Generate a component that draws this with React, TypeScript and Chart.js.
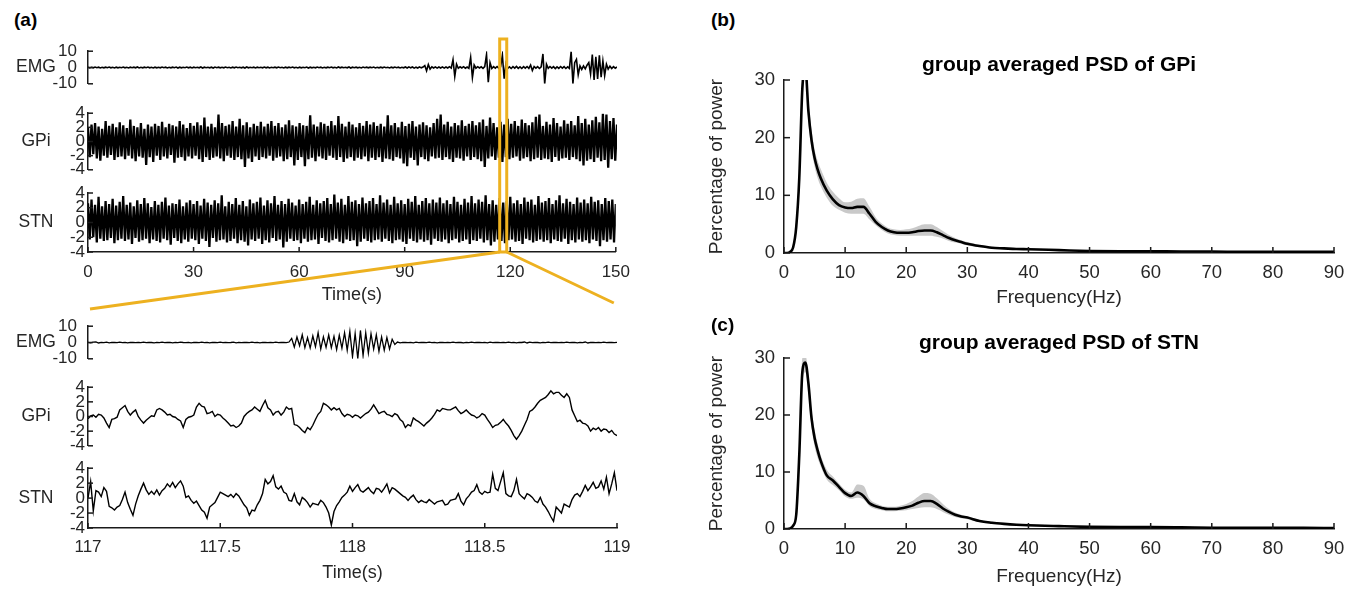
import React, { useEffect, useRef } from 'react';
import { Chart, registerables } from 'chart.js';

Chart.register(...registerables);

const FONT = "'Liberation Sans', Arial, Helvetica, sans-serif";
const TXT = '#262626';
const AX = '#1a1a1a';
const YELLOW = '#EDB120';
const BAND = '#C9C9C9';

// ---------- panel (a): full recording, 0–150 s, one value every 0.5 s ----------
const TOP_T0 = 0;
const TOP_DT = 0.5;

const topEMG = [
  0.2,-0.3,0.1,-0.2,0.3,-0.1,0.2,-0.3,0.1,-0.2,0.2,-0.1,0.3,-0.2,0.1,-0.3,0.2,-0.2,0.1,-0.1,
  0.3,-0.2,0.1,-0.3,0.2,-0.1,0.2,-0.2,0.3,-0.3,0.1,-0.2,0.2,-0.1,0.3,-0.2,0.1,-0.3,0.2,-0.2,
  0.1,-0.2,0.3,-0.1,0.2,-0.3,0.1,-0.2,0.2,-0.1,0.3,-0.3,0.2,-0.2,0.1,-0.1,0.3,-0.2,0.2,-0.3,
  0.2,-0.1,0.1,-0.2,0.3,-0.3,0.2,-0.1,0.1,-0.2,0.2,-0.3,0.3,-0.1,0.2,-0.2,0.1,-0.2,0.3,-0.1,
  0.1,-0.3,0.2,-0.2,0.3,-0.1,0.1,-0.2,0.2,-0.3,0.3,-0.2,0.1,-0.1,0.2,-0.3,0.2,-0.1,0.1,-0.2,
  0.3,-0.2,0.2,-0.3,0.1,-0.1,0.2,-0.2,0.3,-0.1,0.1,-0.3,0.2,-0.2,0.2,-0.1,0.3,-0.2,0.1,-0.3,
  0.2,-0.2,0.1,-0.1,0.3,-0.3,0.2,-0.2,0.1,-0.2,0.3,-0.1,0.2,-0.3,0.1,-0.2,0.2,-0.1,0.3,-0.2,
  0.1,-0.3,0.3,-0.2,0.2,-0.1,0.1,-0.2,0.3,-0.3,0.2,-0.1,0.2,-0.2,0.1,-0.3,0.3,-0.1,0.2,-0.2,
  0.2,-0.1,0.3,-0.3,0.1,-0.2,0.2,-0.2,0.3,-0.1,0.1,-0.3,0.2,-0.2,0.3,-0.1,0.2,-0.3,0.1,-0.2,
  0.3,-0.3,0.4,-0.2,0.3,-0.4,0.2,-0.3,0.4,-0.2,0.3,1.2,-2.0,1.8,-1.0,0.4,-0.3,0.4,-0.4,0.3,
  -0.3,0.4,-0.4,0.3,-0.3,0.5,-0.4,4.8,-5.5,2.0,-0.5,0.4,-0.3,0.5,-0.4,0.3,-0.5,6.2,-6.2,1.5,
  -0.4,0.5,-0.3,0.4,-0.5,0.6,7.9,-9.0,3.0,-0.6,0.5,-0.4,0.6,-0.5,0.4,7.6,-6.9,2.5,-0.5,0.4,
  -0.6,0.5,-0.4,0.7,-0.5,0.4,-0.6,0.5,-0.4,0.6,-0.5,1.5,-1.8,0.6,-0.4,0.5,-0.6,0.4,8.3,-10.0,
  2.0,-0.5,0.6,-0.4,0.5,-0.7,0.4,-0.5,0.6,-0.4,0.5,-0.6,0.4,-0.5,9.7,-10.0,3.0,5.0,-4.5,1.0,
  -1.2,1.0,-0.8,1.4,3.0,-4.0,7.9,-7.6,6.5,-7.0,7.5,-6.0,4.0,-5.0,2.0,-1.0,0.8,-0.6,0.5,-0.4,
  0.3,
];

const topGPi = [
  1.9,-2.2,2.4,-1.8,2.6,-2.4,2.1,-2.7,1.8,-2.0,2.9,-2.3,2.2,-1.9,2.5,-2.6,2.0,-2.2,2.7,-2.1,
  2.3,-2.5,1.9,-2.0,3.1,-2.4,2.2,-2.8,2.0,-2.1,2.6,-2.3,1.8,-3.3,2.4,-2.2,2.1,-2.9,2.5,-2.0,
  2.2,-2.6,2.8,-2.1,2.0,-2.4,2.5,-1.9,2.3,-3.0,2.1,-2.3,2.9,-2.2,2.4,-2.7,1.9,-2.1,2.6,-2.4,
  2.2,-2.0,2.7,-2.5,2.3,-2.9,3.4,-2.2,2.1,-2.6,2.5,-2.3,2.0,-2.1,3.8,-2.4,2.6,-2.8,2.2,-2.0,
  2.4,-2.3,2.9,-2.6,2.1,-2.2,3.2,-2.5,2.3,-3.6,2.7,-2.4,2.0,-2.9,2.5,-2.1,2.2,-2.6,2.8,-2.2,
  2.1,-2.4,2.5,-2.0,2.9,-2.7,2.2,-2.3,2.6,-2.1,2.0,-2.8,2.4,-2.5,3.0,-2.2,2.3,-3.4,2.1,-2.6,
  2.6,-2.2,2.3,-3.5,2.2,-2.5,3.7,-2.3,2.4,-2.8,2.1,-2.1,2.7,-2.4,2.5,-2.6,2.2,-2.0,2.9,-2.3,
  2.3,-2.6,3.6,-2.2,2.5,-2.9,2.1,-2.4,2.8,-2.2,2.4,-2.7,2.0,-2.3,2.6,-2.5,2.2,-2.1,2.9,-2.8,
  2.4,-2.3,2.7,-2.6,2.2,-2.2,2.5,-2.9,2.1,-2.4,3.7,-2.5,2.3,-2.7,2.6,-2.2,2.0,-2.4,2.8,-3.1,
  2.2,-3.5,2.5,-2.3,2.9,-2.6,2.1,-3.4,2.4,-2.2,2.7,-2.5,2.3,-2.8,2.0,-2.1,2.6,-2.4,3.2,-2.3,
  3.8,-2.6,2.4,-2.2,2.8,-2.5,2.1,-2.9,2.6,-2.3,2.3,-2.4,3.0,-2.7,2.2,-2.1,2.5,-2.6,2.9,-2.2,
  2.3,-2.5,2.7,-2.8,3.1,-3.6,2.2,-2.4,3.4,-2.1,2.6,-2.6,2.0,-2.3,2.8,-2.9,2.4,-2.2,3.2,-2.5,
  2.5,-2.3,2.9,-2.1,2.2,-2.7,3.1,-2.4,2.6,-2.2,2.3,-2.8,2.7,-2.5,3.5,-2.3,3.8,-2.6,2.2,-2.4,
  2.8,-2.5,2.4,-2.9,3.3,-2.2,2.6,-2.7,2.1,-2.4,3.0,-2.3,2.5,-2.6,2.9,-2.2,2.3,-2.5,3.6,-2.8,
  2.6,-3.4,3.2,-2.7,2.4,-2.5,3.0,-2.9,3.5,-2.3,2.7,-2.8,3.9,-2.6,3.8,-3.7,2.9,-2.5,3.3,-2.7,
  2.4,
];

const topSTN = [
  2.6,-2.3,3.1,-2.0,2.4,-2.7,3.5,-2.2,2.2,-2.5,2.9,-2.4,2.5,-2.1,3.2,-2.8,2.3,-2.4,2.8,-2.2,
  3.6,-2.5,2.4,-2.3,2.7,-2.9,2.2,-2.1,3.0,-2.6,2.5,-2.4,3.3,-2.2,2.6,-2.8,2.1,-2.3,2.9,-2.5,
  2.4,-2.7,2.8,-2.2,3.4,-2.4,2.3,-3.0,2.6,-2.1,2.5,-2.5,3.1,-2.8,2.2,-2.3,2.7,-2.6,3.0,-2.2,
  2.5,-2.4,2.9,-2.9,2.3,-2.2,3.2,-2.5,2.7,-3.3,2.4,-2.1,3.0,-2.6,2.6,-2.4,3.7,-2.3,2.2,-2.7,
  2.8,-2.5,2.5,-2.2,3.3,-2.8,2.4,-2.4,2.9,-2.6,2.2,-3.1,3.1,-2.3,2.6,-2.5,2.8,-2.2,3.4,-2.9,
  2.3,-2.4,3.0,-2.7,2.6,-2.1,3.6,-2.5,2.4,-2.3,2.9,-3.4,2.5,-2.6,3.2,-2.2,2.7,-2.5,2.3,-2.4,
  3.1,-2.8,2.5,-2.2,2.8,-2.6,3.5,-2.4,2.4,-2.3,3.0,-2.9,2.6,-2.1,2.9,-2.5,3.3,-2.7,2.5,-2.4,
  3.8,-2.2,2.7,-2.6,3.2,-2.8,2.4,-2.3,3.6,-2.5,2.8,-2.4,3.0,-3.2,2.5,-2.6,3.4,-2.2,2.6,-2.5,
  2.9,-2.7,3.3,-2.4,2.5,-2.3,3.7,-2.6,2.7,-2.2,3.1,-2.5,2.4,-2.8,3.5,-2.4,2.6,-2.3,3.0,-2.6,
  2.5,-2.9,3.2,-2.2,2.8,-2.5,3.6,-2.7,2.4,-2.3,2.9,-2.6,3.3,-2.4,2.6,-3.0,3.1,-2.2,2.7,-2.5,
  3.4,-2.6,2.6,-2.3,3.0,-2.8,2.5,-2.4,3.5,-2.2,2.8,-2.7,2.4,-2.5,3.2,-2.3,2.7,-2.9,3.6,-2.4,
  2.6,-2.5,3.1,-2.2,2.8,-2.7,3.7,-2.4,2.5,-3.1,3.0,-2.6,2.4,-2.3,3.3,-2.5,2.7,-2.8,2.9,-2.4,
  3.5,-2.3,2.6,-2.6,3.0,-2.5,2.5,-2.9,3.4,-2.2,2.8,-2.4,3.1,-2.7,2.4,-2.5,3.6,-2.3,2.7,-2.6,
  2.9,-2.4,3.3,-2.8,2.5,-2.3,3.0,-2.5,3.7,-2.6,2.6,-2.2,3.2,-2.9,2.8,-2.4,2.5,-2.7,3.4,-2.3,
  2.7,-2.6,3.1,-2.4,2.6,-2.8,3.5,-2.3,2.8,-2.5,3.0,-3.2,2.5,-2.4,3.3,-2.6,2.9,-2.3,3.1,-2.7,
  2.5,
];

// ---------- panel (a): zoomed window 117–119 s, one value every 0.01 s ----------
const BOT_T0 = 117;
const BOT_DT = 0.01;

const botEMG = [
  0.1,-0.2,0.2,0.4,-0.3,0.1,-0.1,0.2,-0.2,0.1,0.0,-0.1,0.2,-0.1,0.1,-0.2,0.1,0.0,-0.1,0.1,
  -0.1,0.2,-0.1,0.1,0.0,-0.2,0.1,-0.1,0.2,-0.1,0.0,0.1,-0.2,0.1,-0.1,0.2,0.0,-0.1,0.1,-0.2,
  0.1,0.0,-0.1,0.2,-0.1,0.1,-0.2,0.1,0.0,-0.1,0.2,-0.1,0.1,-0.1,0.0,0.2,-0.2,0.1,-0.1,0.1,
  0.0,-0.1,0.2,-0.1,0.1,-0.2,0.1,0.0,-0.1,0.1,-0.1,0.2,-0.1,0.1,0.0,-0.1,0.3,2.5,-2.8,3.4,
  -2.0,4.7,-3.2,3.0,-3.4,4.0,-2.6,6.0,-4.0,3.5,-3.0,4.7,-3.2,3.8,-4.3,4.5,-3.5,6.0,-4.7,6.8,
  -8.8,5.5,-10.0,7.4,-8.0,6.0,-6.5,5.4,-4.0,4.7,-5.4,3.4,-4.7,3.0,-4.0,2.0,-1.2,0.3,-0.2,0.1,
  0.0,-0.1,0.1,-0.2,0.2,-0.1,0.1,0.0,-0.1,0.2,-0.1,0.1,-0.2,0.1,0.0,-0.1,0.1,-0.1,0.2,-0.1,
  0.1,0.0,-0.2,0.1,-0.1,0.2,-0.1,0.1,0.0,-0.1,0.1,-0.2,0.2,-0.1,0.1,0.0,-0.1,0.1,-0.1,0.2,
  -0.1,0.1,-0.2,0.1,0.0,0.3,-0.3,0.2,-0.1,0.1,0.0,-0.2,0.1,-0.1,0.2,-0.1,0.1,0.0,-0.1,0.1,
  -0.1,0.2,-0.1,0.0,0.1,-0.2,0.1,-0.1,0.3,-0.3,0.1,0.0,-0.1,0.1,-0.1,0.2,-0.1,0.1,0.0,-0.1,
  0.1,
];

const botGPi = [
  -0.3,0.1,0.2,-0.1,0.3,0.2,-0.2,-0.9,-1.5,-0.4,
  -0.3,-0.1,0.9,1.2,1.5,0.7,0.2,0.6,0.9,0.0,
  -0.5,-0.9,-0.5,-0.2,0.1,0.0,0.9,1.1,0.9,0.6,
  0.2,0.3,0.0,-0.1,-0.4,-0.6,-1.5,-0.4,-0.1,0.0,
  0.2,1.3,1.8,1.4,1.3,0.4,0.5,0.7,0.0,0.3,
  0.2,-0.2,-0.5,-0.9,-1.3,-1.2,-1.5,-1.3,-0.9,0.0,
  0.4,0.7,0.9,1.3,1.0,0.7,1.5,2.2,1.2,0.9,
  0.2,0.6,0.7,0.2,0.6,1.3,1.0,1.1,-1.1,-1.2,
  -1.5,-1.9,-2.2,-1.5,-1.8,-1.2,-0.4,0.3,0.7,1.8,
  1.6,1.3,0.9,1.2,0.9,1.1,0.4,0.0,0.3,0.2,
  -0.1,0.2,0.1,-0.2,0.1,0.4,0.6,1.0,1.6,1.0,
  0.4,0.6,0.7,0.3,0.2,0.0,0.4,0.2,-0.4,-0.7,
  -1.5,-1.1,-1.3,-0.2,-0.5,-0.7,-1.0,-1.3,-0.9,-0.6,
  -0.2,0.3,0.9,0.7,1.1,1.0,0.9,0.9,1.1,1.3,
  0.8,0.4,0.6,0.9,0.5,0.2,0.1,-0.2,0.0,0.4,
  0.2,-0.4,-0.9,-1.5,-1.2,-1.1,-0.8,-0.4,-0.9,-1.3,
  -1.9,-2.6,-3.1,-2.6,-2.0,-1.2,-0.4,0.7,0.9,1.3,
  1.8,2.2,2.4,2.6,3.0,3.5,3.1,3.3,3.3,2.9,
  2.6,3.1,2.6,0.9,0.1,-0.7,-0.5,-0.9,-1.0,-1.3,
  -2.0,-1.6,-1.8,-1.5,-2.0,-1.7,-1.8,-2.2,-1.9,-2.4,
  -2.6,
];

const botSTN = [
  0.0,2.2,-1.7,1.0,0.8,0.2,1.4,0.9,-1.1,-1.3,
  -1.6,-1.2,-1.0,-0.2,0.8,-0.6,-1.5,-2.3,-0.8,0.3,
  1.2,2.0,1.1,0.5,0.9,0.5,1.1,0.4,1.0,1.3,
  1.9,1.5,2.1,1.4,1.9,2.3,1.6,0.1,0.3,-0.3,
  -0.7,-0.4,-1.0,-1.6,-1.9,-2.7,-1.2,-0.9,-0.6,0.1,
  0.8,0.6,0.4,0.2,0.5,0.1,0.6,0.3,-0.3,-0.9,
  -1.3,-2.3,-1.6,-1.7,-0.9,-0.3,0.6,2.5,1.9,2.2,
  3.0,1.5,1.2,1.6,0.8,0.6,-0.3,-0.4,0.6,-0.5,
  -0.9,0.1,-0.2,-0.6,-1.2,-0.7,-0.8,-0.9,-0.3,-0.6,
  -1.2,-2.0,-3.6,-1.8,-1.0,-0.5,0.1,0.4,0.8,1.6,
  0.9,1.4,1.8,1.0,0.8,1.1,1.4,0.9,0.6,1.3,
  1.2,0.8,1.3,1.9,0.7,1.4,1.2,0.9,0.6,0.3,
  0.1,-0.3,0.1,0.4,-0.2,-0.6,-0.3,-0.5,-0.6,-0.2,
  -0.5,-0.8,-0.5,-0.4,-0.3,-0.9,-0.8,-0.3,-0.2,-0.1,
  0.6,-0.4,-0.9,-0.1,0.3,0.8,1.0,1.8,0.8,0.5,
  0.9,0.7,0.8,3.2,1.3,1.0,2.2,3.4,0.6,0.3,
  0.2,1.0,2.5,0.6,0.2,-0.1,0.6,0.4,0.1,-0.4,
  -0.6,0.1,-0.8,-1.2,-1.8,-2.5,-3.1,-1.2,-1.6,-2.0,
  -0.8,-1.0,-1.2,-0.2,0.4,0.6,0.2,0.9,1.7,1.0,
  1.5,2.1,1.3,1.5,2.3,1.2,2.8,0.6,1.9,3.4,
  1.0,
];

const TOP_X_TICK_STEP = 30;
const BOT_X_TICK_STEP = 0.5;
const ZOOM_FROM = 117;
const ZOOM_TO = 119;

// ---------- panels (b), (c): group averaged PSD ----------
const FREQ = [0,0.5,1,1.5,2,2.5,3,3.5,4,4.5,5,5.5,6,7,8,9,10,11,12,13,14,15,16,17,18,19,20,21,22,23,24,25,26,27,28,29,30,32,34,36,38,40,45,50,55,60,65,70,75,80,85,90];

const gpiMean = [0,0,0.2,1.0,4.5,13,28.5,32,24.5,19.6,16.5,14.5,13.0,
  10.8,9.3,8.3,7.9,7.8,8.0,8.0,6.8,5.4,4.5,3.9,3.6,3.5,3.5,3.6,3.8,3.9,3.9,3.6,3.1,2.6,2.2,1.9,1.6,
  1.2,0.9,0.8,0.7,0.65,
  0.5,0.35,0.3,0.3,0.25,0.25,0.2,0.2,0.2,0.2];
const gpiUpper = [0,0,0.3,1.3,5.5,15,30.5,33,26.5,21.5,18,16,14.6,
  12.2,10.6,9.5,8.8,8.9,9.4,9.5,8.0,6.2,5.1,4.4,4.1,4.0,4.1,4.3,4.7,5.0,5.0,4.5,3.8,3.1,2.6,2.2,1.9,
  1.4,1.1,0.95,0.85,0.8,
  0.6,0.45,0.4,0.4,0.35,0.35,0.3,0.3,0.3,0.3];
const gpiLower = [0,0,0.1,0.8,3.5,11,26.5,31,22.5,18,15,13,11.6,
  9.6,8.2,7.5,7.0,6.8,6.8,6.8,5.8,4.8,4.0,3.4,3.1,3.0,3.0,3.0,3.0,3.0,3.0,2.8,2.5,2.1,1.8,1.6,1.3,
  1.0,0.75,0.65,0.55,0.5,
  0.4,0.25,0.2,0.2,0.15,0.15,0.1,0.1,0.1,0.1];

const stnMean = [0,0,0.1,0.6,2.5,13,27.5,29.2,25.5,19.5,16,13.8,12.0,
  9.4,8.5,7.4,6.3,5.8,6.4,5.8,4.5,4.0,3.7,3.5,3.5,3.6,3.8,4.1,4.6,4.9,4.9,4.4,3.6,3.0,2.5,2.2,2.0,
  1.4,1.1,0.9,0.75,0.65,
  0.5,0.38,0.35,0.35,0.3,0.22,0.2,0.2,0.2,0.15];
const stnUpper = [0,0,0.2,0.9,3.3,15,30,30.5,27,21,17.5,15,13,
  10.4,9.2,8.0,6.9,6.4,7.8,7.6,5.3,4.5,4.1,3.9,3.9,4.1,4.4,4.9,5.7,6.3,6.2,5.4,4.4,3.5,2.9,2.5,2.2,
  1.6,1.3,1.05,0.9,0.8,
  0.62,0.5,0.47,0.47,0.42,0.34,0.32,0.32,0.32,0.27];
const stnLower = [0,0,0.05,0.4,1.8,11,25,27.5,23.5,18,14.5,12.5,11,
  8.7,7.7,6.8,5.7,5.3,5.5,5.2,4.0,3.5,3.3,3.1,3.1,3.2,3.3,3.5,3.7,3.8,3.8,3.5,3.0,2.5,2.1,1.9,1.7,
  1.2,0.9,0.75,0.6,0.5,
  0.38,0.26,0.23,0.23,0.18,0.1,0.08,0.08,0.08,0.05];

// ---------- plugins ----------
const inTicksPlugin = {
  id: 'inTicks',
  afterDraw(chart: any, _a: any, o: any) {
    if (!o) return;
    const { ctx, chartArea } = chart;
    const len = o.len || 5;
    ctx.save();
    ctx.strokeStyle = AX;
    ctx.lineWidth = 1.5;
    if (o.y) {
      const s = chart.scales.y;
      for (const t of s.ticks) {
        const py = s.getPixelForValue(t.value);
        ctx.beginPath();
        ctx.moveTo(chartArea.left, py);
        ctx.lineTo(chartArea.left + len, py);
        ctx.stroke();
      }
    }
    if (o.x) {
      const s = chart.scales.x;
      for (const t of s.ticks) {
        const px = s.getPixelForValue(t.value);
        ctx.beginPath();
        ctx.moveTo(px, chartArea.bottom);
        ctx.lineTo(px, chartArea.bottom - len);
        ctx.stroke();
      }
    }
    ctx.restore();
  },
};

const rowLabelPlugin = {
  id: 'rowLabel',
  afterDraw(chart: any, _a: any, o: any) {
    if (!o || !o.text) return;
    const { ctx, chartArea } = chart;
    ctx.save();
    ctx.font = `${o.size || 17}px ${FONT}`;
    ctx.fillStyle = TXT;
    ctx.textAlign = 'center';
    ctx.textBaseline = 'middle';
    ctx.fillText(o.text, o.x, (chartArea.top + chartArea.bottom) / 2);
    ctx.restore();
  },
};

const panelTitlePlugin = {
  id: 'panelTitle',
  afterDraw(chart: any, _a: any, o: any) {
    if (!o || !o.text) return;
    const { ctx, chartArea } = chart;
    ctx.save();
    ctx.font = `bold ${o.size || 21}px ${FONT}`;
    ctx.fillStyle = '#000';
    ctx.textAlign = 'center';
    ctx.textBaseline = 'middle';
    ctx.fillText(o.text, (chartArea.left + chartArea.right) / 2, chartArea.top - o.dy);
    ctx.restore();
  },
};

const zoomBoxPlugin = {
  id: 'zoomBox',
  afterDatasetsDraw(chart: any, _a: any, o: any) {
    if (!o || !o.enabled) return;
    const { ctx, chartArea } = chart;
    const xs = chart.scales.x;
    const x0 = xs.getPixelForValue(o.from);
    const x1 = xs.getPixelForValue(o.to);
    const top = chartArea.top - o.above;
    const bot = chartArea.bottom;
    ctx.save();
    ctx.strokeStyle = YELLOW;
    ctx.lineWidth = 3;
    ctx.strokeRect(x0, top, x1 - x0, bot - top);
    ctx.beginPath();
    ctx.moveTo(x0, bot);
    ctx.lineTo(chartArea.left + 2, bot + o.dropLeft);
    ctx.moveTo(x1, bot);
    ctx.lineTo(chartArea.right - 2, bot + o.dropRight);
    ctx.stroke();
    ctx.restore();
  },
};

const fmtTick = (v: any) => `${Math.round(Number(v) * 100) / 100}`;

// ---------- chart builders ----------
function signalConfig(o: any) {
  const pts = o.values.map((v: number, i: number) => ({ x: o.t0 + i * o.dt, y: v }));
  return {
    type: 'line',
    data: {
      datasets: [{ data: pts, borderColor: '#000', borderWidth: o.lw, pointRadius: 0, tension: 0, fill: false }],
    },
    options: {
      animation: false,
      responsive: false,
      events: [],
      layout: { padding: { left: 0, right: 23, top: o.padTop, bottom: o.padBottom } },
      plugins: {
        legend: { display: false },
        tooltip: { enabled: false },
        rowLabel: { text: o.label, x: 36, size: 17.5 },
        inTicks: { x: o.showX, y: true, len: 5 },
        zoomBox: o.box || { enabled: false },
      },
      scales: {
        x: {
          type: 'linear',
          min: o.xMin,
          max: o.xMax,
          display: o.showX,
          grid: { display: false, drawTicks: false },
          border: { display: true, color: AX, width: 1.5 },
          ticks: { stepSize: o.xStep, padding: o.xTickPad || 9, autoSkip: false, maxRotation: 0, color: TXT, font: { size: 17 }, callback: fmtTick },
          title: { display: !!o.showX, text: 'Time(s)', color: TXT, font: { size: 18 }, padding: 0 },
          afterFit: o.showX ? (s: any) => { s.height = o.xHeight; } : undefined,
        },
        y: {
          type: 'linear',
          min: o.yMin,
          max: o.yMax,
          grid: { display: false, drawTicks: false },
          border: { display: true, color: AX, width: 1.5 },
          ticks: { stepSize: o.yStep, padding: o.yTickPad, autoSkip: false, color: TXT, font: { size: 17 }, callback: fmtTick },
          afterFit: (s: any) => { s.width = 88; },
        },
      },
    },
    plugins: [rowLabelPlugin, inTicksPlugin, zoomBoxPlugin],
  };
}

function psdConfig(o: any) {
  const xy = (arr: number[]) => arr.map((v, i) => ({ x: FREQ[i], y: v }));
  return {
    type: 'line',
    data: {
      datasets: [
        { data: xy(o.mean), borderColor: '#000', borderWidth: 2.6, pointRadius: 0, fill: false, cubicInterpolationMode: 'monotone' },
        { data: xy(o.lower), borderColor: 'rgba(0,0,0,0)', borderWidth: 1, pointRadius: 0, fill: false, cubicInterpolationMode: 'monotone' },
        { data: xy(o.upper), borderColor: 'rgba(0,0,0,0)', borderWidth: 1, pointRadius: 0, fill: '-1', backgroundColor: BAND, cubicInterpolationMode: 'monotone' },
      ],
    },
    options: {
      animation: false,
      responsive: false,
      events: [],
      layout: { padding: { left: 0, right: 26, top: 40, bottom: o.padBottom } },
      plugins: {
        legend: { display: false },
        tooltip: { enabled: false },
        panelTitle: { text: o.title, dy: 15, size: 21 },
        inTicks: { x: true, y: true, len: 6 },
      },
      scales: {
        x: {
          type: 'linear',
          min: 0,
          max: 90,
          grid: { display: false, drawTicks: false },
          border: { display: true, color: AX, width: 1.5 },
          ticks: { stepSize: 10, padding: 9, autoSkip: false, maxRotation: 0, color: TXT, font: { size: 18.5 } },
          title: { display: true, text: 'Frequency(Hz)', color: TXT, font: { size: 19 }, padding: 0 },
          afterFit: (s: any) => { s.height = o.xHeight; },
        },
        y: {
          type: 'linear',
          min: 0,
          max: 30,
          grid: { display: false, drawTicks: false },
          border: { display: true, color: AX, width: 1.5 },
          ticks: { stepSize: 10, padding: 9, autoSkip: false, color: TXT, font: { size: 18.5 } },
          title: { display: true, text: 'Percentage of power', color: TXT, font: { size: 19 }, padding: { top: 15.6, bottom: 0 } },
          afterFit: (s: any) => { s.width = 94; },
        },
      },
    },
    plugins: [panelTitlePlugin, inTicksPlugin],
  };
}

const SPECS = [
  { left: 0, top: 30, w: 640, h: 75, cfg: () => signalConfig({ values: topEMG, t0: TOP_T0, dt: TOP_DT, xMin: 0, xMax: 150, yMin: -10, yMax: 10, yStep: 10, label: 'EMG', padTop: 14, padBottom: 12, showX: false, yTickPad: 11, lw: 1.6 }) },
  { left: 0, top: 100, w: 640, h: 83, cfg: () => signalConfig({ values: topGPi, t0: TOP_T0, dt: TOP_DT, xMin: 0, xMax: 150, yMin: -4, yMax: 4, yStep: 2, label: 'GPi', padTop: 12, padBottom: 12, showX: false, yTickPad: 3, lw: 2.3 }) },
  { left: 0, top: 30, w: 640, h: 292, cfg: () => signalConfig({ values: topSTN, t0: TOP_T0, dt: TOP_DT, xMin: 0, xMax: 150, xStep: TOP_X_TICK_STEP, yMin: -4, yMax: 4, yStep: 2, label: 'STN', padTop: 163, padBottom: 16, showX: true, xHeight: 54, xTickPad: 10, yTickPad: 3, lw: 2.3, box: { enabled: true, from: ZOOM_FROM, to: ZOOM_TO, above: 154, dropLeft: 57, dropRight: 51 } }) },
  { left: 0, top: 305, w: 640, h: 75, cfg: () => signalConfig({ values: botEMG, t0: BOT_T0, dt: BOT_DT, xMin: 117, xMax: 119, yMin: -10, yMax: 10, yStep: 10, label: 'EMG', padTop: 14, padBottom: 12, showX: false, yTickPad: 11, lw: 1.3 }) },
  { left: 0, top: 374, w: 640, h: 85, cfg: () => signalConfig({ values: botGPi, t0: BOT_T0, dt: BOT_DT, xMin: 117, xMax: 119, yMin: -4, yMax: 4, yStep: 2, label: 'GPi', padTop: 12, padBottom: 12, showX: false, yTickPad: 3, lw: 1.4 }) },
  { left: 0, top: 455, w: 640, h: 133, cfg: () => signalConfig({ values: botSTN, t0: BOT_T0, dt: BOT_DT, xMin: 117, xMax: 119, xStep: BOT_X_TICK_STEP, yMin: -4, yMax: 4, yStep: 2, label: 'STN', padTop: 12, padBottom: 4, showX: true, xHeight: 56, xTickPad: 9, yTickPad: 3, lw: 1.4 }) },
  { left: 690, top: 40, w: 670, h: 272, cfg: () => psdConfig({ mean: gpiMean, upper: gpiUpper, lower: gpiLower, title: 'group averaged PSD of GPi', xHeight: 56, padBottom: 3 }) },
  { left: 690, top: 318, w: 670, h: 271, cfg: () => psdConfig({ mean: stnMean, upper: stnUpper, lower: stnLower, title: 'group averaged PSD of STN', xHeight: 59, padBottom: 1 }) },
];

const letterStyle: any = { position: 'absolute', fontFamily: FONT, fontWeight: 'bold', fontSize: 19, lineHeight: '20px', color: '#000' };

export default function App() {
  const refs = useRef<(HTMLCanvasElement | null)[]>([]);
  useEffect(() => {
    Chart.defaults.font.family = FONT;
    Chart.defaults.color = TXT;
    const charts = SPECS.map((s, i) => new Chart(refs.current[i] as HTMLCanvasElement, s.cfg() as any));
    return () => charts.forEach((c) => c.destroy());
  }, []);
  return (
    <div style={{ position: 'absolute', left: 0, top: 0, width: 1360, height: 589, background: '#fff', overflow: 'hidden' }}>
      {SPECS.map((s, i) => (
        <canvas
          key={i}
          ref={(el) => { refs.current[i] = el; }}
          width={s.w}
          height={s.h}
          style={{ position: 'absolute', left: s.left, top: s.top, width: s.w, height: s.h }}
        />
      ))}
      <div style={{ ...letterStyle, left: 14, top: 10 }}>(a)</div>
      <div style={{ ...letterStyle, left: 711, top: 10 }}>(b)</div>
      <div style={{ ...letterStyle, left: 711, top: 315 }}>(c)</div>
    </div>
  );
}
